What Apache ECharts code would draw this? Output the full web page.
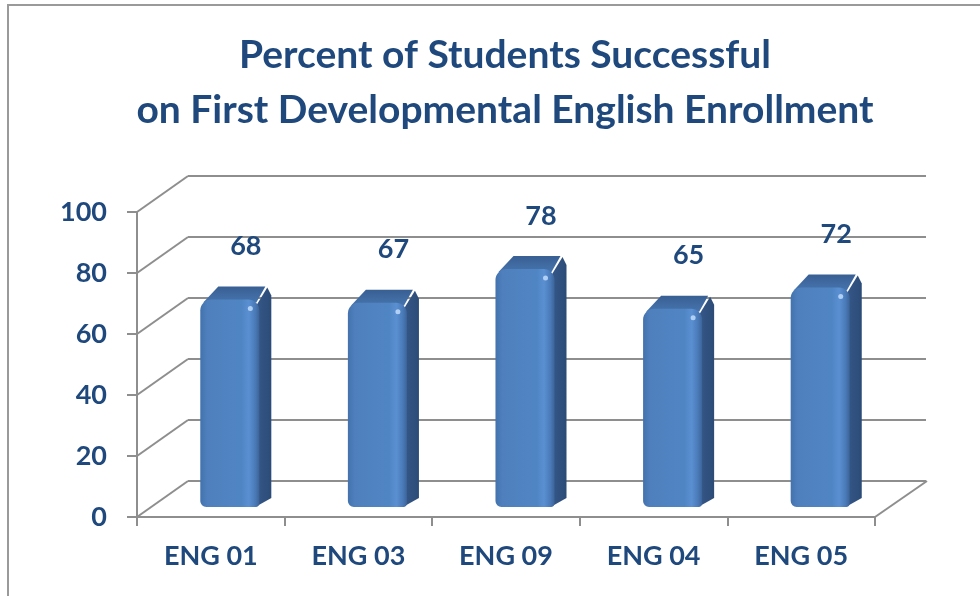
<!DOCTYPE html>
<html><head><meta charset="utf-8">
<script src="https://cdn.jsdelivr.net/npm/echarts@6/dist/echarts.min.js"></script>
<style>html,body{margin:0;padding:0;background:#fff}#c{width:980px;height:596px}</style>
</head><body><div id="c"></div>
<script>
const titleLines = ['Percent of Students Successful', 'on First Developmental English Enrollment'];
const categories = ['ENG 01', 'ENG 03', 'ENG 09', 'ENG 04', 'ENG 05'];
const values = [68, 67, 78, 65, 72];
const yTicks = [0, 20, 40, 60, 80, 100];

const TXT = '#1F497D';
const GRID = '#8E8E8E';
const FONT = 'Lato';
const DEPTH_X = 51, DEPTH_Y = -36;

const chart = echarts.init(document.getElementById('c'), null, {renderer: 'canvas'});

function barItem(params, api) {
  const i = api.value(0), v = api.value(1);
  const top = api.coord([i, v]);
  const base = api.coord([i, 0]);
  const bw = api.size([1, 0])[0];
  const fw = bw * 0.40;
  const cx = top[0] + 19;
  const x0 = cx - fw / 2, x1 = cx + fw / 2;
  const yT = top[1] - 10, yB = base[1] - 10;
  const dx = 12, dy = -13, r = 11;
  return {
    type: 'group',
    children: [
      { type: 'polygon', shape: { points: [[x1 - 3, yT + 6], [x1 + dx - 4, yT + dy + 1], [x1 + dx, yT + dy + 9], [x1 + dx, yB + dy + 4], [x1 - 4, yB]] },
        style: { fill: new echarts.graphic.LinearGradient(0, 0, 1, 0, [
          { offset: 0, color: '#36598A' }, { offset: 1, color: '#2C4B77' }]) } },
      { type: 'polygon', shape: { points: [[x0 + 3, yT + 3], [x0 + dx + 6, yT + dy], [x1 + dx - 6, yT + dy], [x1 - 3, yT + 3]] },
        style: { fill: new echarts.graphic.LinearGradient(0, 0, 0, 1, [
          { offset: 0, color: '#395F93' }, { offset: 1, color: '#4674AE' }]) } },
      { type: 'rect', shape: { x: x0, y: yT, width: fw, height: yB - yT, r: [r, r, 4, 6] },
        style: { fill: new echarts.graphic.LinearGradient(0, 0, 1, 0, [
          { offset: 0, color: '#4372AE' }, { offset: 0.12, color: '#4F80BD' },
          { offset: 0.7, color: '#5085C4' }, { offset: 0.82, color: '#5A90D2' },
          { offset: 0.93, color: '#4A7AB8' }, { offset: 1, color: '#3C6499' }]) } },
      { type: 'circle', shape: { cx: x1 - 9, cy: yT + 9, r: 2.5 }, style: { fill: 'rgba(200,225,255,0.8)' } },
      { type: 'text', style: { text: String(v), x: top[0] + 35, y: top[1] - 63,
        align: 'center', verticalAlign: 'middle', font: 'bold 27px ' + FONT, fill: TXT } }
    ]
  };
}

function wallItem(params, api) {
  const t = api.value(0);
  const p = api.coord([0, t]);
  const bw = api.size([1, 0])[0];
  const xl = p[0] - bw / 2;
  return { type: 'line', shape: { x1: xl, y1: p[1], x2: xl + DEPTH_X, y2: p[1] + DEPTH_Y },
    style: { stroke: GRID, lineWidth: 2 } };
}

function floorItem(params, api) {
  const p = api.coord([categories.length - 1, 0]);
  const bw = api.size([1, 0])[0];
  const xr = p[0] + bw / 2;
  return { type: 'line', shape: { x1: xr, y1: p[1], x2: xr + DEPTH_X + 1, y2: p[1] + DEPTH_Y },
    style: { stroke: GRID, lineWidth: 2 } };
}

const G0 = { left: 137, right: 105, top: 212, bottom: 79 };
const G1 = { left: G0.left + DEPTH_X, right: G0.right - DEPTH_X, top: G0.top + DEPTH_Y, bottom: G0.bottom - DEPTH_Y };

chart.setOption({
  backgroundColor: '#ffffff',
  animation: false,
  title: {
    text: titleLines.join('\n'), left: 500, top: 23, textAlign: 'center',
    textStyle: { fontFamily: FONT, fontWeight: 'bold', fontSize: 39, lineHeight: 55, color: TXT }
  },
  graphic: [
    { type: 'rect', shape: { x: 8, y: 5, width: 1100, height: 1100 }, style: { fill: 'none', stroke: '#9A9A9A', lineWidth: 2 }, silent: true }
  ],
  grid: [
    Object.assign({ containLabel: false }, G0),
    Object.assign({ containLabel: false }, G1)
  ],
  xAxis: [
    { type: 'category', gridIndex: 0, data: categories,
      axisLine: { lineStyle: { color: GRID, width: 2 } },
      axisTick: { show: true, length: 9, interval: 0, lineStyle: { color: GRID, width: 2 } },
      axisLabel: { margin: 26, fontFamily: FONT, fontWeight: 'bold', fontSize: 27, color: TXT } },
    { type: 'category', gridIndex: 1, data: categories, show: false }
  ],
  yAxis: [
    { type: 'value', gridIndex: 0, min: 0, max: 100, interval: 20,
      axisLine: { show: true, lineStyle: { color: GRID, width: 2 } },
      axisTick: { show: true, length: 10, lineStyle: { color: GRID, width: 2 } },
      splitLine: { show: false },
      axisLabel: { margin: 30, fontFamily: FONT, fontWeight: 'bold', fontSize: 27, color: TXT } },
    { type: 'value', gridIndex: 1, min: 0, max: 100, interval: 20,
      axisLine: { show: false }, axisTick: { show: false }, axisLabel: { show: false },
      splitLine: { show: true, lineStyle: { color: GRID, width: 2 } } }
  ],
  series: [
    { type: 'custom', xAxisIndex: 0, yAxisIndex: 0, z: 1, silent: true,
      renderItem: wallItem, data: yTicks.map(t => [t]) },
    { type: 'custom', xAxisIndex: 0, yAxisIndex: 0, z: 1, silent: true,
      renderItem: floorItem, data: [[0]] },
    { type: 'custom', xAxisIndex: 0, yAxisIndex: 0, z: 5, silent: true,
      renderItem: barItem, data: values.map((v, i) => [i, v]) }
  ]
});
</script>
</body></html>
